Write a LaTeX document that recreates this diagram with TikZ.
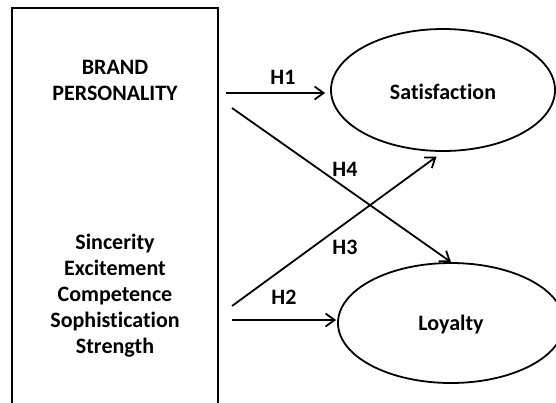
\documentclass[tikz,border=0pt]{standalone}
\usepackage{fontspec}
\setmainfont{Carlito}[Ligatures=NoCommon]
\usetikzlibrary{arrows.meta,shapes.geometric}
\begin{document}
\begin{tikzpicture}[x=1pt,y=-1pt,
  every node/.style={font=\fontsize{22}{26}\selectfont\bfseries},
  frame/.style={draw,line width=1.8pt},
  latent/.style={draw,ellipse,line width=1.8pt,inner sep=0pt},
  arr/.style={line width=1.8pt,-{Straight Barb[length=9pt,width=13pt,line width=1.8pt]}},
  lbl/.style={inner sep=0pt}]
\clip (0,0) rectangle (556,402);
\fill[white] (0,0) rectangle (556,402);
\node[frame,minimum width=206pt,minimum height=410pt,inner sep=0pt] (bp) at (115,213) {};
\node[lbl,align=center] (title) at (115,80) {BRAND\\PERSONALITY};
\node[lbl,align=center] (dims) at (115,296) {Sincerity\\Excitement\\Competence\\Sophistication\\Strength};
\node[latent,minimum width=224pt,minimum height=122pt] (sat) at (443,90) {};
\node[lbl] (satt) at (443,92) {Satisfaction};
\node[latent,minimum width=226pt,minimum height=120pt] (loy) at (451,323) {};
\node[lbl] (loyt) at (451,325) {Loyalty};
\coordinate (s1) at (226,93);
\coordinate (s4) at (232,108);
\coordinate (s3) at (232,306);
\coordinate (s2) at (232,320);
\draw[arr,shorten >=5pt] (s1) -- (s1 -| sat.west);
\draw[arr] (s4) -- (loy.north);
\draw[arr,shorten >=8pt] (s3) -- (sat.south);
\draw[arr,shorten >=1pt] (s2) -- (s2 -| loy.west);
\node[lbl] (h1) at (283,77) {H1};
\node[lbl] (h4) at (345,169) {H4};
\node[lbl] (h3) at (345,247) {H3};
\node[lbl] (h2) at (284,297) {H2};
\end{tikzpicture}
\end{document}
